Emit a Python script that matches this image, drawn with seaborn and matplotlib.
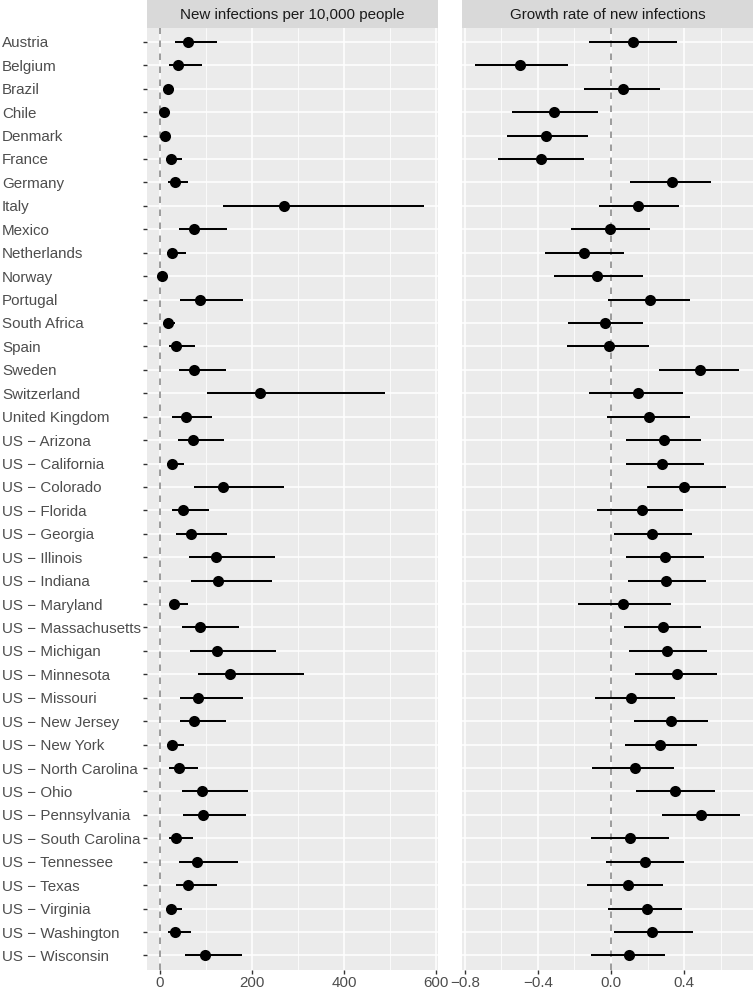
import numpy as np
import pandas as pd
import seaborn as sns
import matplotlib.pyplot as plt
from matplotlib.ticker import MultipleLocator, FuncFormatter

# Categories (top to bottom)
countries = ['Austria', 'Belgium', 'Brazil', 'Chile', 'Denmark', 'France', 'Germany',
             'Italy', 'Mexico', 'Netherlands', 'Norway', 'Portugal', 'South Africa',
             'Spain', 'Sweden', 'Switzerland', 'United Kingdom',
             'US − Arizona', 'US − California', 'US − Colorado', 'US − Florida',
             'US − Georgia', 'US − Illinois', 'US − Indiana', 'US − Maryland',
             'US − Massachusetts', 'US − Michigan', 'US − Minnesota', 'US − Missouri',
             'US − New Jersey', 'US − New York', 'US − North Carolina', 'US − Ohio',
             'US − Pennsylvania', 'US − South Carolina', 'US − Tennessee', 'US − Texas',
             'US − Virginia', 'US − Washington', 'US − Wisconsin']

# New infections per 10,000 people: estimate, lower, upper
inf_est = [61, 39, 17, 8, 10, 23, 32, 270, 75, 27, 5, 88, 17, 36, 75, 218, 57,
           72, 26, 138, 51, 68, 121, 127, 31, 88, 123, 153, 82, 75, 27, 41, 92,
           93, 35, 81, 62, 23, 32, 97]
inf_lo = [33, 19, 10, 4, 6, 14, 17, 138, 42, 16, 3, 43, 10, 19, 42, 103, 27,
          40, 15, 73, 27, 36, 64, 67, 21, 47, 66, 83, 43, 43, 15, 19, 48,
          51, 19, 42, 34, 13, 17, 54]
inf_hi = [123, 92, 30, 14, 16, 48, 62, 575, 146, 56, 9, 180, 32, 77, 143, 489, 113,
          140, 52, 270, 106, 146, 251, 243, 60, 172, 253, 314, 180, 143, 52, 83, 191,
          188, 72, 170, 123, 48, 67, 179]

# Growth rate of new infections: estimate, lower, upper
gr_est = [0.12, -0.50, 0.064, -0.31, -0.356, -0.382, 0.334, 0.15, -0.004, -0.146,
          -0.077, 0.212, -0.031, -0.013, 0.486, 0.146, 0.208, 0.292, 0.281, 0.402,
          0.172, 0.225, 0.296, 0.303, 0.064, 0.283, 0.309, 0.36, 0.111, 0.329,
          0.27, 0.132, 0.353, 0.491, 0.104, 0.184, 0.093, 0.195, 0.226, 0.10]
gr_lo = [-0.12, -0.745, -0.15, -0.54, -0.568, -0.619, 0.106, -0.068, -0.217, -0.36,
         -0.314, -0.015, -0.234, -0.239, 0.261, -0.119, -0.02, 0.084, 0.082, 0.195,
         -0.075, 0.018, 0.084, 0.095, -0.179, 0.073, 0.10, 0.13, -0.088, 0.128,
         0.079, -0.104, 0.139, 0.281, -0.111, -0.027, -0.13, -0.015, 0.016, -0.111]
gr_hi = [0.36, -0.234, 0.267, -0.07, -0.124, -0.148, 0.546, 0.373, 0.212, 0.071,
         0.174, 0.435, 0.177, 0.206, 0.70, 0.393, 0.431, 0.493, 0.508, 0.628,
         0.396, 0.442, 0.508, 0.519, 0.331, 0.491, 0.526, 0.581, 0.353, 0.53,
         0.469, 0.347, 0.57, 0.705, 0.316, 0.398, 0.285, 0.387, 0.447, 0.296]

titles = ['New infections per 10,000 people', 'Growth rate of new infections']

sns.set_theme(style='darkgrid', rc={
    'axes.facecolor': '#EBEBEB',
    'grid.color': 'white',
    'axes.edgecolor': 'none',
})
plt.rcParams['font.family'] = ['Liberation Sans', 'DejaVu Sans']

fig = plt.figure(figsize=(7.53, 9.89), dpi=100)
W, H = 753, 989
FS = 10.9
TICK = 2.9

def px_axes(x0, y0, x1, y1):
    # pixel box (top-left origin) -> figure axes
    return fig.add_axes([x0 / W, 1 - y1 / H, (x1 - x0) / W, (y1 - y0) / H])

def make_fmt(spec):
    return FuncFormatter(lambda v, p: (spec % v).replace('-', '\u2212'))

n = len(countries)
panels = [
    (inf_est, inf_lo, inf_hi, 200, 100, '%d', 146.7, 437.7),
    (gr_est, gr_lo, gr_hi, 0.4, 0.2, '%.1f', 461.7, 753.0),
]

for i, (est, lo, hi, major, minor, fmt, x0, x1) in enumerate(panels):
    ax = px_axes(x0, 27.8, x1, 969.5)
    df = pd.DataFrame({'country': countries, 'est': est})
    ax.hlines(y=np.arange(n), xmin=lo, xmax=hi, color='black', lw=1.45, zorder=2)
    sns.stripplot(data=df, x='est', y='country', ax=ax, jitter=False,
                  color='black', size=8, linewidth=0, zorder=3)
    ax.axvline(0, color='#959595', lw=1.3, ls=(0, (3.6, 3.6)), zorder=1.5)

    # ggplot-style 5% expansion, including the reference line at 0
    vmin = min(min(lo), 0)
    vmax = max(max(hi), 0)
    pad = 0.05 * (vmax - vmin)
    ax.set_xlim(vmin - pad, vmax + pad)
    ax.set_ylim(n - 1 + 0.6, -0.6)

    ax.xaxis.set_major_locator(MultipleLocator(major))
    ax.xaxis.set_minor_locator(MultipleLocator(minor))
    ax.xaxis.set_major_formatter(make_fmt(fmt))
    ax.grid(which='major', axis='both', color='white', lw=1.1)
    ax.grid(which='minor', axis='x', color='white', lw=0.55)
    ax.set_axisbelow(True)
    ax.set_xlabel('')
    ax.set_ylabel('')
    ax.tick_params(axis='x', which='major', bottom=True, length=TICK, width=1.0,
                   color='#333333', pad=1.5, labelsize=FS, labelcolor='#4D4D4D')
    ax.tick_params(axis='x', which='minor', bottom=False)
    for s in ax.spines.values():
        s.set_visible(False)

    if i == 0:
        ax.tick_params(axis='y', left=True, length=TICK, width=1.0, color='#333333',
                       pad=(x0 - 2) / 100 * 72 - TICK, labelsize=FS,
                       labelcolor='#4D4D4D')
        for lab in ax.get_yticklabels():
            lab.set_horizontalalignment('left')
    else:
        ax.tick_params(axis='y', left=False, labelleft=False)

    # facet strip
    sax = px_axes(x0, 0, x1, 27.8)
    sax.set_facecolor('#D9D9D9')
    sax.set_xticks([])
    sax.set_yticks([])
    sax.grid(False)
    for s in sax.spines.values():
        s.set_visible(False)
    sax.text(0.5, 0.47, titles[i], ha='center', va='center', fontsize=FS,
             color='#1A1A1A', transform=sax.transAxes)

fig.savefig('out.png', dpi=100, facecolor='white')
plt.close(fig)
